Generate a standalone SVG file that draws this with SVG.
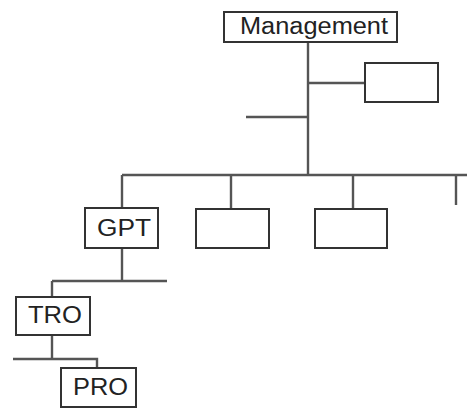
<svg xmlns="http://www.w3.org/2000/svg" width="467" height="409" viewBox="0 0 467 409">
  <style>
    .box { fill: #ffffff; stroke: #333333; stroke-width: 2; }
    .link { fill: none; stroke: #555555; stroke-width: 2.4; }
    .label { font-family: "Liberation Sans", Arial, sans-serif; font-size: 23px; fill: #222222; }
  </style>
  <rect width="467" height="409" fill="#ffffff"/>
  <g id="connectors">
    <path class="link" d="M308 42 V175"/>
    <path class="link" d="M308 83 H365"/>
    <path class="link" d="M246 117 H308"/>
    <path class="link" d="M122 175 H467"/>
    <path class="link" d="M122 175 V208"/>
    <path class="link" d="M231 175 V209"/>
    <path class="link" d="M353 175 V209"/>
    <path class="link" d="M456 175 V205"/>
    <path class="link" d="M122 248 V281"/>
    <path class="link" d="M52 281 H167"/>
    <path class="link" d="M52 281 V297"/>
    <path class="link" d="M52 335 V359"/>
    <path class="link" d="M13 359 H97 V368"/>
  </g>
  <g id="management">
    <rect class="box" x="224" y="12" width="173" height="30"/>
    <text class="label" x="240" y="34" textLength="148" lengthAdjust="spacingAndGlyphs">Management</text>
  </g>
  <g id="side-unit">
    <rect class="box" x="365" y="63" width="73" height="39"/>
  </g>
  <g id="gpt">
    <rect class="box" x="85" y="208" width="73" height="40"/>
    <text class="label" x="97" y="236" textLength="54" lengthAdjust="spacingAndGlyphs">GPT</text>
  </g>
  <g id="unit-2">
    <rect class="box" x="196" y="209" width="73" height="39"/>
  </g>
  <g id="unit-3">
    <rect class="box" x="315" y="209" width="72" height="39"/>
  </g>
  <g id="tro">
    <rect class="box" x="16" y="297" width="74" height="38"/>
    <text class="label" x="28" y="323" textLength="54" lengthAdjust="spacingAndGlyphs">TRO</text>
  </g>
  <g id="pro">
    <rect class="box" x="61" y="368" width="75" height="39"/>
    <text class="label" x="73" y="395" textLength="55" lengthAdjust="spacingAndGlyphs">PRO</text>
  </g>
</svg>
